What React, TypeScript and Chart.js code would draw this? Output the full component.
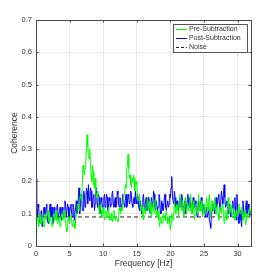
import React, { useEffect, useRef } from "react";
import { Chart, registerables } from "chart.js";

Chart.register(...registerables);

// Frequency grid spacing (Hz) of the coherence estimates
const FREQ_STEP = 0.1;

// Coherence before subtraction (green), one row per Hz
const PRE_SUBTRACTION = [
  0.04, 0.07, 0.09, 0.08, 0.06, 0.09, 0.10, 0.07, 0.07, 0.09,
  0.09, 0.07, 0.06, 0.09, 0.10, 0.08, 0.08, 0.10, 0.11, 0.08,
  0.07, 0.09, 0.09, 0.07, 0.06, 0.08, 0.10, 0.09, 0.08, 0.10,
  0.11, 0.08, 0.07, 0.08, 0.09, 0.07, 0.06, 0.09, 0.10, 0.09,
  0.08, 0.10, 0.11, 0.09, 0.07, 0.06, 0.045, 0.07, 0.09, 0.08,
  0.07, 0.09, 0.10, 0.08, 0.06, 0.07, 0.08, 0.07, 0.055, 0.08,
  0.10, 0.12, 0.13, 0.12, 0.11, 0.14, 0.16, 0.15, 0.14, 0.20,
  0.25, 0.23, 0.22, 0.24, 0.26, 0.30, 0.345, 0.31, 0.28, 0.27,
  0.30, 0.26, 0.22, 0.20, 0.25, 0.23, 0.19, 0.18, 0.21, 0.17,
  0.15, 0.16, 0.17, 0.13, 0.10, 0.12, 0.13, 0.11, 0.09, 0.11,
  0.12, 0.10, 0.08, 0.09, 0.11, 0.10, 0.09, 0.11, 0.12, 0.09,
  0.08, 0.09, 0.10, 0.08, 0.075, 0.09, 0.11, 0.10, 0.08, 0.085,
  0.09, 0.08, 0.075, 0.09, 0.12, 0.11, 0.10, 0.12, 0.11, 0.13,
  0.14, 0.16, 0.17, 0.19, 0.18, 0.23, 0.25, 0.285, 0.24, 0.21,
  0.22, 0.19, 0.18, 0.21, 0.20, 0.22, 0.21, 0.17, 0.19, 0.20,
  0.19, 0.16, 0.14, 0.15, 0.16, 0.12, 0.11, 0.13, 0.12, 0.09,
  0.08, 0.11, 0.12, 0.10, 0.11, 0.14, 0.15, 0.12, 0.11, 0.13,
  0.14, 0.10, 0.09, 0.12, 0.13, 0.11, 0.10, 0.14, 0.15, 0.11,
  0.09, 0.10, 0.11, 0.08, 0.06, 0.08, 0.09, 0.07, 0.07, 0.09,
  0.10, 0.09, 0.08, 0.10, 0.11, 0.09, 0.07, 0.08, 0.09, 0.07,
  0.05, 0.07, 0.10, 0.09, 0.08, 0.11, 0.14, 0.12, 0.10, 0.12,
  0.13, 0.11, 0.09, 0.12, 0.16, 0.13, 0.11, 0.12, 0.14, 0.12,
  0.09, 0.12, 0.15, 0.13, 0.10, 0.12, 0.13, 0.11, 0.11, 0.14,
  0.16, 0.13, 0.10, 0.12, 0.14, 0.11, 0.08, 0.10, 0.12, 0.11,
  0.10, 0.13, 0.16, 0.13, 0.11, 0.12, 0.14, 0.11, 0.09, 0.11,
  0.13, 0.12, 0.10, 0.13, 0.15, 0.13, 0.11, 0.14, 0.16, 0.12,
  0.09, 0.12, 0.14, 0.12, 0.11, 0.13, 0.15, 0.12, 0.10, 0.12,
  0.13, 0.10, 0.08, 0.10, 0.12, 0.11, 0.10, 0.12, 0.13, 0.10,
  0.07, 0.09, 0.11, 0.10, 0.08, 0.12, 0.15, 0.12, 0.10, 0.12,
  0.13, 0.11, 0.09, 0.10, 0.12, 0.10, 0.08, 0.10, 0.11, 0.10,
  0.09, 0.11, 0.13, 0.11, 0.10, 0.11, 0.12, 0.10, 0.08, 0.09,
  0.11, 0.09, 0.065, 0.08, 0.10, 0.09, 0.09, 0.11, 0.12, 0.10,
  0.10,
];

// Coherence after subtraction (blue), one row per Hz
const POST_SUBTRACTION = [
  0.21, 0.12, 0.09, 0.13, 0.12, 0.08, 0.07, 0.10, 0.11, 0.06,
  0.08, 0.11, 0.12, 0.10, 0.09, 0.12, 0.13, 0.08, 0.07, 0.10,
  0.11, 0.13, 0.09, 0.10, 0.12, 0.07, 0.08, 0.12, 0.11, 0.09,
  0.09, 0.12, 0.13, 0.08, 0.10, 0.11, 0.12, 0.09, 0.08, 0.12,
  0.11, 0.09, 0.10, 0.14, 0.13, 0.09, 0.09, 0.13, 0.12, 0.08,
  0.10, 0.12, 0.13, 0.10, 0.09, 0.13, 0.12, 0.08, 0.10, 0.12,
  0.14, 0.10, 0.11, 0.15, 0.18, 0.10, 0.12, 0.16, 0.15, 0.11,
  0.11, 0.17, 0.16, 0.12, 0.13, 0.18, 0.17, 0.13, 0.19, 0.15,
  0.14, 0.18, 0.17, 0.12, 0.12, 0.15, 0.16, 0.11, 0.13, 0.17,
  0.18, 0.13, 0.12, 0.16, 0.15, 0.10, 0.11, 0.15, 0.14, 0.12,
  0.12, 0.15, 0.16, 0.12, 0.13, 0.16, 0.15, 0.11, 0.11, 0.15,
  0.14, 0.12, 0.13, 0.16, 0.17, 0.13, 0.12, 0.14, 0.15, 0.12,
  0.13, 0.17, 0.16, 0.13, 0.12, 0.15, 0.14, 0.11, 0.13, 0.16,
  0.15, 0.13, 0.12, 0.14, 0.16, 0.12, 0.13, 0.16, 0.15, 0.13,
  0.14, 0.17, 0.16, 0.13, 0.12, 0.14, 0.15, 0.13, 0.17, 0.14,
  0.13, 0.16, 0.15, 0.12, 0.11, 0.14, 0.14, 0.10, 0.12, 0.15,
  0.16, 0.12, 0.11, 0.14, 0.15, 0.11, 0.12, 0.15, 0.14, 0.11,
  0.10, 0.13, 0.15, 0.12, 0.13, 0.17, 0.16, 0.12, 0.11, 0.14,
  0.14, 0.11, 0.12, 0.16, 0.15, 0.11, 0.10, 0.14, 0.13, 0.11,
  0.12, 0.15, 0.16, 0.12, 0.11, 0.13, 0.14, 0.12, 0.13, 0.16,
  0.15, 0.18, 0.215, 0.16, 0.14, 0.13, 0.17, 0.15, 0.12, 0.13,
  0.14, 0.12, 0.11, 0.13, 0.15, 0.12, 0.12, 0.16, 0.14, 0.11,
  0.10, 0.14, 0.13, 0.10, 0.11, 0.14, 0.16, 0.13, 0.12, 0.15,
  0.14, 0.11, 0.10, 0.13, 0.15, 0.12, 0.12, 0.14, 0.13, 0.10,
  0.09, 0.12, 0.14, 0.12, 0.11, 0.13, 0.15, 0.12, 0.10, 0.12,
  0.13, 0.11, 0.09, 0.11, 0.12, 0.09, 0.10, 0.12, 0.08, 0.07,
  0.055, 0.09, 0.11, 0.13, 0.13, 0.11, 0.10, 0.13, 0.15, 0.12,
  0.12, 0.15, 0.16, 0.13, 0.11, 0.14, 0.17, 0.15, 0.13, 0.16,
  0.19, 0.15, 0.12, 0.13, 0.14, 0.11, 0.10, 0.12, 0.13, 0.10,
  0.09, 0.11, 0.12, 0.14, 0.10, 0.12, 0.15, 0.11, 0.08, 0.16,
  0.12, 0.09, 0.07, 0.10, 0.11, 0.08, 0.06, 0.10, 0.14, 0.11,
  0.09, 0.11, 0.12, 0.14, 0.10, 0.11, 0.13, 0.11, 0.09, 0.10,
  0.11,
];

const NOISE_LEVEL = 0.09;
const X_RANGE = [0, 32];
const Y_RANGE = [0, 0.7];
const X_TICKS = [0, 5, 10, 15, 20, 25, 30];
const Y_TICKS = [0, 0.1, 0.2, 0.3, 0.4, 0.5, 0.6, 0.7];
const SERIES_LABELS = ["Pre-Subtraction", "Post-Subtraction", "Noise"];
const X_TITLE = "Frequency [Hz]";
const Y_TITLE = "Coherence";

const FONT = "'Liberation Sans', Arial, Helvetica, sans-serif";
const TEXT_COLOR = "#303030";
const AXIS_COLOR = "#4a4a4a";
const GREEN = "#00ff00";
const BLUE = "#0000ff";
const NOISE_COLOR = "#222222";

const boxPlugin = {
  id: "matlabBox",
  afterDraw(chart: any) {
    const { ctx, chartArea } = chart;
    const { left, right, top, bottom } = chartArea;
    const xs = chart.scales.x;
    const ys = chart.scales.y;
    ctx.save();
    ctx.strokeStyle = AXIS_COLOR;
    ctx.lineWidth = 1;
    ctx.strokeRect(Math.round(left) + 0.5, Math.round(top) + 0.5, Math.round(right - left), Math.round(bottom - top));
    const tl = 2.5;
    ctx.beginPath();
    X_TICKS.forEach((v) => {
      const px = Math.round(xs.getPixelForValue(v)) + 0.5;
      ctx.moveTo(px, bottom);
      ctx.lineTo(px, bottom - tl);
      ctx.moveTo(px, top);
      ctx.lineTo(px, top + tl);
    });
    Y_TICKS.forEach((v) => {
      const py = Math.round(ys.getPixelForValue(v)) + 0.5;
      ctx.moveTo(left, py);
      ctx.lineTo(left + tl, py);
      ctx.moveTo(right, py);
      ctx.lineTo(right - tl, py);
    });
    ctx.stroke();

    // legend
    const lx = 173.5, ly = 24.5, lw = 74, lh = 28;
    ctx.fillStyle = "#ffffff";
    ctx.fillRect(lx, ly, lw, lh);
    ctx.strokeStyle = "#555555";
    ctx.strokeRect(lx, ly, lw, lh);
    const colors = [GREEN, BLUE, NOISE_COLOR];
    const rowY = [29.5, 38.5, 47.5];
    ctx.font = `7px ${FONT}`;
    ctx.textBaseline = "middle";
    ctx.textAlign = "left";
    SERIES_LABELS.forEach((label, i) => {
      ctx.strokeStyle = colors[i];
      ctx.lineWidth = 1;
      ctx.setLineDash(i === 2 ? [3, 2] : []);
      ctx.beginPath();
      ctx.moveTo(176, rowY[i]);
      ctx.lineTo(187, rowY[i]);
      ctx.stroke();
      ctx.setLineDash([]);
      ctx.fillStyle = TEXT_COLOR;
      ctx.fillText(label, 189, rowY[i]);
    });
    ctx.restore();
  },
};

export default function App() {
  const ref = useRef<HTMLCanvasElement | null>(null);

  useEffect(() => {
    document.body.style.margin = "0";
    const canvas = ref.current;
    if (!canvas) return;
    const pre = PRE_SUBTRACTION.map((y, i) => ({ x: i * FREQ_STEP, y }));
    const post = POST_SUBTRACTION.map((y, i) => ({ x: i * FREQ_STEP, y }));
    const noise = X_RANGE.map((x) => ({ x, y: NOISE_LEVEL }));

    const chart = new Chart(canvas, {
      type: "line",
      data: {
        datasets: [
          { label: SERIES_LABELS[0], data: pre, borderColor: GREEN, borderWidth: 1, pointRadius: 0, tension: 0 },
          { label: SERIES_LABELS[1], data: post, borderColor: BLUE, borderWidth: 1, pointRadius: 0, tension: 0 },
          { label: SERIES_LABELS[2], data: noise, borderColor: NOISE_COLOR, borderWidth: 1, borderDash: [4, 3], pointRadius: 0 },
        ],
      },
      options: {
        responsive: false,
        animation: false,
        events: [],
        layout: { padding: { top: 20, right: 26, left: 0, bottom: 0 } },
        plugins: { legend: { display: false }, tooltip: { enabled: false } },
        scales: {
          x: {
            type: "linear",
            min: X_RANGE[0],
            max: X_RANGE[1],
            afterBuildTicks: (s: any) => { s.ticks = X_TICKS.map((v) => ({ value: v })); },
            afterFit: (s: any) => { s.height = 31; },
            grid: { color: "#e6e6e6", drawTicks: false, lineWidth: 1 },
            border: { display: false },
            ticks: {
              color: TEXT_COLOR,
              font: { family: FONT, size: 7.5 },
              padding: 3,
              maxRotation: 0,
              callback: (v: any) => String(v),
            },
            title: {
              display: true,
              text: X_TITLE,
              color: TEXT_COLOR,
              font: { family: FONT, size: 8.5 },
              padding: { top: 0, bottom: 8 },
            },
          },
          y: {
            type: "linear",
            min: Y_RANGE[0],
            max: Y_RANGE[1],
            afterBuildTicks: (s: any) => { s.ticks = Y_TICKS.map((v) => ({ value: v })); },
            afterFit: (s: any) => { s.width = 36; },
            grid: { color: "#e6e6e6", drawTicks: false, lineWidth: 1 },
            border: { display: false },
            ticks: {
              color: TEXT_COLOR,
              font: { family: FONT, size: 7.5 },
              padding: 4,
              callback: (v: any) => (v === 0 ? "0" : Number(v).toFixed(1)),
            },
            title: {
              display: true,
              text: Y_TITLE,
              color: TEXT_COLOR,
              font: { family: FONT, size: 8.5 },
              padding: { top: 10, bottom: 0 },
            },
          },
        },
      },
      plugins: [boxPlugin],
    });
    return () => chart.destroy();
  }, []);

  return (
    <div style={{ width: 277, height: 277, background: "#ffffff" }}>
      <canvas ref={ref} width={277} height={277} style={{ display: "block" }} />
    </div>
  );
}
